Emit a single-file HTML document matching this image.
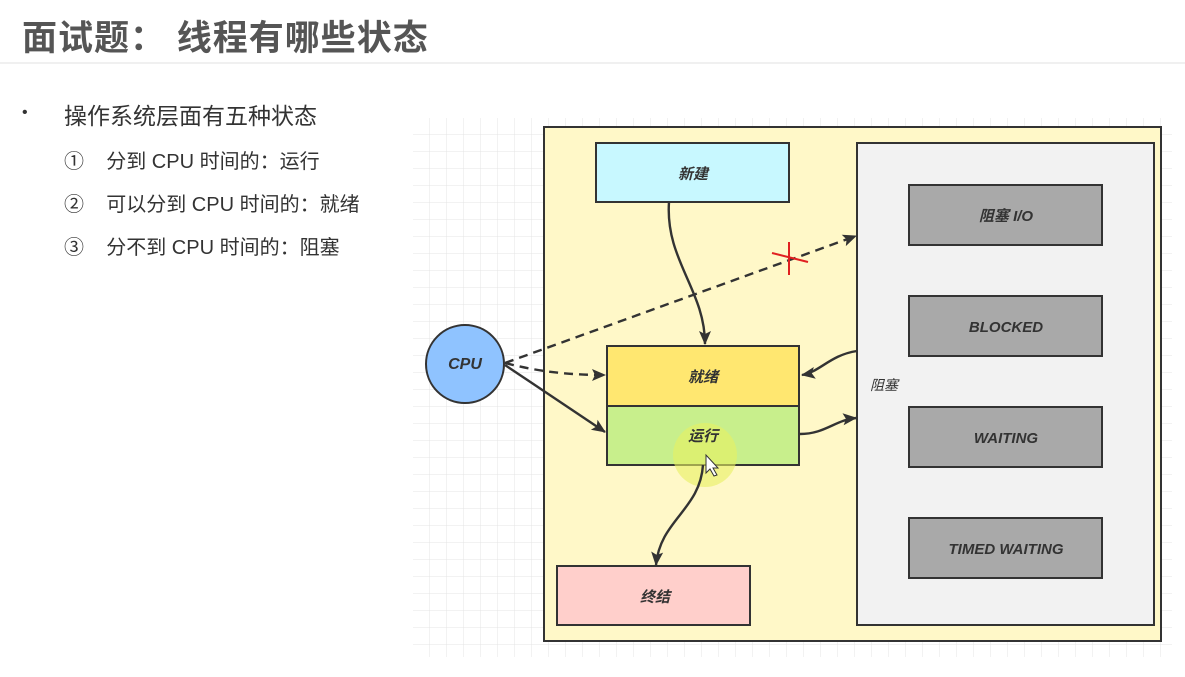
<!DOCTYPE html>
<html><head><meta charset="utf-8"><style>
body{margin:0;width:1185px;height:677px;background:#fff;overflow:hidden;font-family:"Liberation Sans","Noto Sans CJK SC",sans-serif;position:relative}
.t{position:absolute;color:#333}
</style></head><body>
<div class="t" style="left:22px;top:10px;font-size:35px;font-weight:bold;color:#555;letter-spacing:1px">面试题：&nbsp;线程有哪些状态</div>
<div style="position:absolute;left:0;top:62px;width:1185px;height:2px;background:#f0f0f0"></div>
<div class="t" style="left:22px;top:104px;font-size:16px">•</div>
<div class="t" style="left:64px;top:97px;font-size:23px">操作系统层面有五种状态</div>
<div class="t" style="left:64px;top:145px;font-size:20px">①&nbsp;&nbsp;&nbsp;&nbsp;分到 CPU 时间的：运行</div>
<div class="t" style="left:64px;top:188px;font-size:20px">②&nbsp;&nbsp;&nbsp;&nbsp;可以分到 CPU 时间的：就绪</div>
<div class="t" style="left:64px;top:231px;font-size:20px">③&nbsp;&nbsp;&nbsp;&nbsp;分不到 CPU 时间的：阻塞</div>
<svg width="1185" height="677" style="position:absolute;left:0;top:0" font-family="Liberation Sans, Noto Sans CJK SC, sans-serif">
<defs>
<pattern id="g" x="413" y="118" width="17" height="17" patternUnits="userSpaceOnUse"><path d="M17 0V17H0" fill="none" stroke="#e4e4e4" stroke-width="1"/></pattern>
<marker id="a" markerWidth="14" markerHeight="14" refX="13" refY="7" orient="auto" markerUnits="userSpaceOnUse" viewBox="0 0 14 14"><path d="M0,1 L14,7 L0,13 L3,7z" fill="#333"/></marker>
</defs>
<rect x="413" y="118" width="759" height="539" fill="url(#g)"/>
<rect x="544" y="127" width="617" height="514" fill="#fff8c8" stroke="#333" stroke-width="2"/>
<rect x="857" y="143" width="297" height="482" fill="#f2f2f2" stroke="#333" stroke-width="2"/>
<g stroke="#333" stroke-width="2" fill="#a9a9a9">
<rect x="909" y="185" width="193" height="60"/><rect x="909" y="296" width="193" height="60"/>
<rect x="909" y="407" width="193" height="60"/><rect x="909" y="518" width="193" height="60"/>
<rect x="596" y="143" width="193" height="59" fill="#c8f8ff"/>
<rect x="607" y="346" width="192" height="60" fill="#ffe770"/>
<rect x="607" y="406" width="192" height="59" fill="#c8ef8c"/>
<rect x="557" y="566" width="193" height="59" fill="#ffcfcb"/>
<circle cx="465" cy="364" r="39" fill="#8fc3ff"/>
</g>
<circle cx="705" cy="455" r="32" fill="#e8f060" opacity="0.6"/>
<g font-style="italic" font-weight="bold" font-size="15" fill="#333" text-anchor="middle">
<text x="1006" y="221">阻塞 I/O</text><text x="1006" y="332">BLOCKED</text>
<text x="1006" y="443">WAITING</text><text x="1006" y="554">TIMED WAITING</text>
<text x="693" y="179">新建</text><text x="703" y="382">就绪</text><text x="703" y="441">运行</text>
<text x="655" y="602">终结</text><text x="465" y="369" font-size="16">CPU</text>
<text x="884" y="390" font-size="14" font-weight="normal">阻塞</text>
</g>
<g fill="none" stroke="#333" stroke-width="2.4">
<path d="M669 202 C665 260,705 290,705 344" marker-end="url(#a)"/>
<path d="M505 363 L856 236" stroke-dasharray="9,6" marker-end="url(#a)"/>
<path d="M505 363 C540 372,570 375,605 375" stroke-dasharray="9,6" marker-end="url(#a)"/>
<path d="M505 365 L605 432" marker-end="url(#a)"/>
<path d="M857 351 C830 355,820 372,802 375" marker-end="url(#a)"/>
<path d="M800 434 C825 434,835 420,856 418" marker-end="url(#a)"/>
<path d="M703 465 C700 510,660 520,656 565" marker-end="url(#a)"/>
</g>
<g stroke="#e02020" stroke-width="2"><path d="M772 253 L808 262"/><path d="M789 242 L789 275"/></g>
<path d="M706 455 l0 18 l4 -4 l4 7 l3 -1 l-4 -7 l5 0z" fill="#fff" stroke="#333"/>
</svg>
</body></html>
